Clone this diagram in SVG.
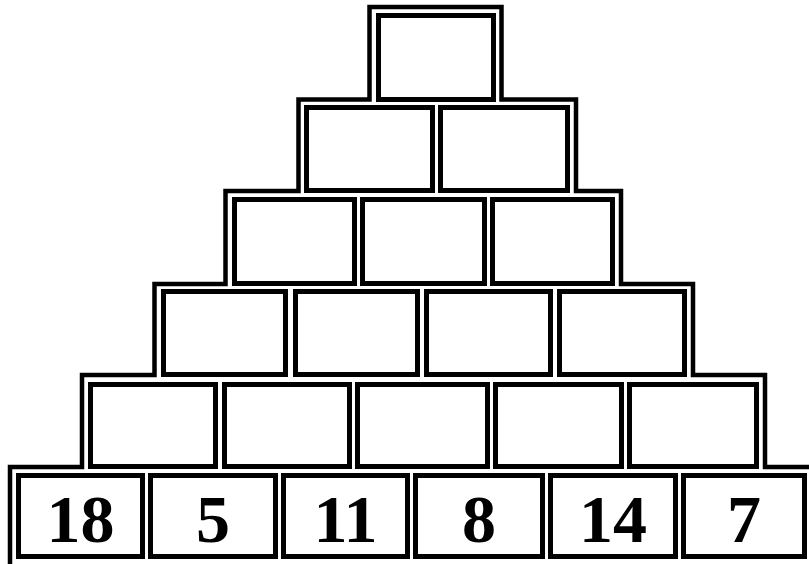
<svg xmlns="http://www.w3.org/2000/svg" width="809" height="564" viewBox="0 0 809 564">
<style>
.cell{fill:#fff;stroke:#000;stroke-width:5}
.frame{fill:none;stroke:#000;stroke-width:4.5;stroke-linejoin:miter;stroke-linecap:butt}
.num{font-family:"Liberation Serif","Times New Roman",serif;font-weight:bold;font-size:68px;text-anchor:middle;fill:#000}
</style>
<rect width="809" height="564" fill="#fff"/>
<g id="frame">
<path class="frame" d="M10 566 V467 H82 V375 H154.5 V284 H225.5 V191 H298.5 V99.5 H369.5 V7 H501.5 V99.5 H576 V191 H621 V284 H693 V375 H765 V467 H812"/>
</g>
<g id="row1">
<g id="c1-1"><rect class="cell" x="378.5" y="15.5" width="115" height="84"/></g>
</g>
<g id="row2">
<g id="c2-1"><rect class="cell" x="306.5" y="107.5" width="126" height="83"/></g>
<g id="c2-2"><rect class="cell" x="440.5" y="107.5" width="127" height="83"/></g>
</g>
<g id="row3">
<g id="c3-1"><rect class="cell" x="234.5" y="199.5" width="120" height="84"/></g>
<g id="c3-2"><rect class="cell" x="362.5" y="199.5" width="122" height="84"/></g>
<g id="c3-3"><rect class="cell" x="492.5" y="199.5" width="120" height="84"/></g>
</g>
<g id="row4">
<g id="c4-1"><rect class="cell" x="163.5" y="291.5" width="122" height="83"/></g>
<g id="c4-2"><rect class="cell" x="295.5" y="291.5" width="122" height="83"/></g>
<g id="c4-3"><rect class="cell" x="426.5" y="291.5" width="124" height="83"/></g>
<g id="c4-4"><rect class="cell" x="559.5" y="291.5" width="125" height="83"/></g>
</g>
<g id="row5">
<g id="c5-1"><rect class="cell" x="90.5" y="384.5" width="125" height="82"/></g>
<g id="c5-2"><rect class="cell" x="224.5" y="384.5" width="125" height="82"/></g>
<g id="c5-3"><rect class="cell" x="357.5" y="384.5" width="130" height="82"/></g>
<g id="c5-4"><rect class="cell" x="495.5" y="384.5" width="126" height="82"/></g>
<g id="c5-5"><rect class="cell" x="629.5" y="384.5" width="127" height="82"/></g>
</g>
<g id="row6">
<g id="c6-1"><rect class="cell" x="18.5" y="475.5" width="124" height="81"/><text class="num" x="80.5" y="542">18</text></g>
<g id="c6-2"><rect class="cell" x="150.5" y="475.5" width="125" height="81"/><text class="num" x="213" y="542">5</text></g>
<g id="c6-3"><rect class="cell" x="283.5" y="475.5" width="124" height="81"/><text class="num" x="345.5" y="542">11</text></g>
<g id="c6-4"><rect class="cell" x="415.5" y="475.5" width="127" height="81"/><text class="num" x="479" y="542">8</text></g>
<g id="c6-5"><rect class="cell" x="550.5" y="475.5" width="125" height="81"/><text class="num" x="613" y="542">14</text></g>
<g id="c6-6"><rect class="cell" x="683.5" y="475.5" width="121" height="81"/><text class="num" x="744" y="542">7</text></g>
</g>
</svg>
